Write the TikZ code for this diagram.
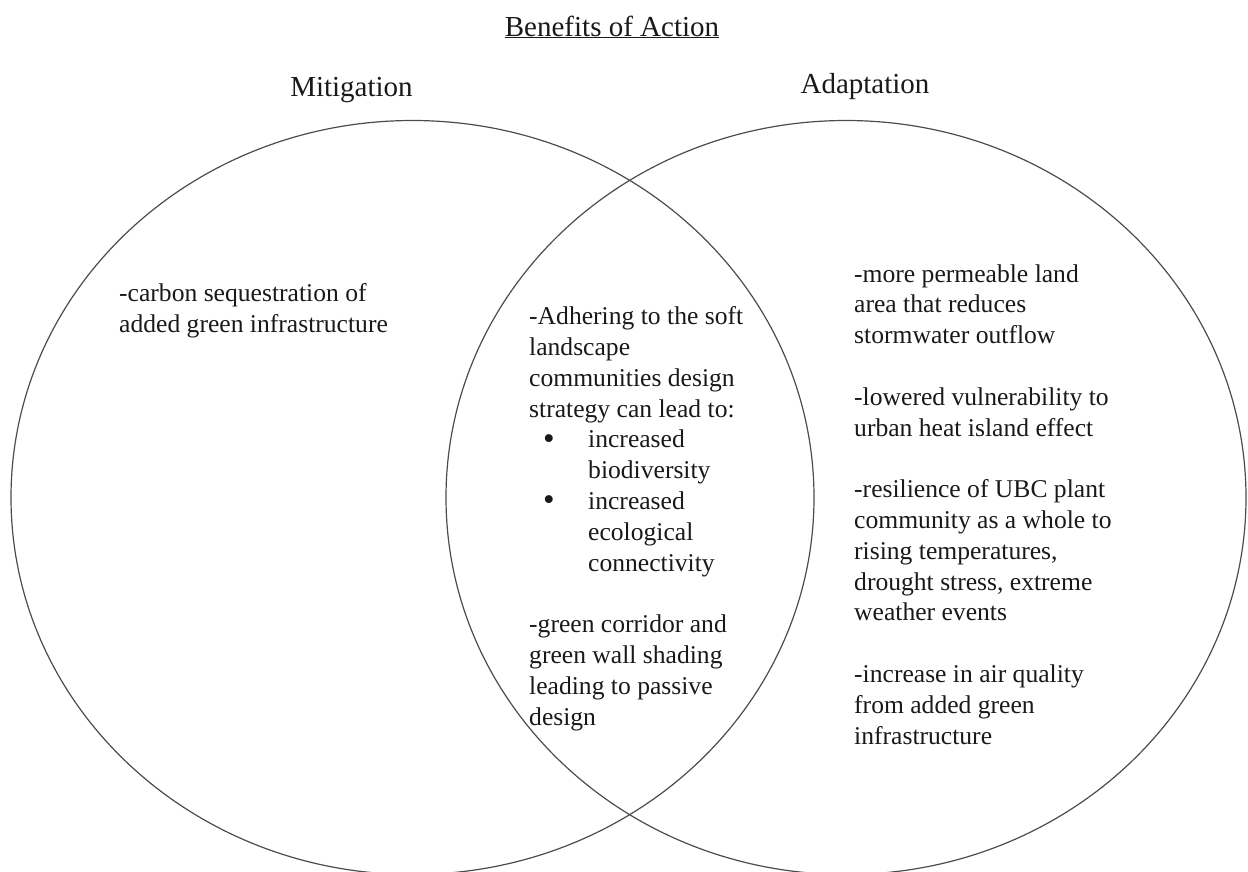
\documentclass[tikz,border=0pt]{standalone}
\usepackage{fontspec}
\setmainfont{Liberation Serif}
\usepackage{tikz}

\newcommand{\listdot}{{\fontsize{33}{33}\selectfont\raisebox{-1.5pt}{\textbullet}}}

\begin{document}
\begin{tikzpicture}[x=1pt,y=-1pt]
		\tikzstyle{ring}=[draw=black!70,line width=1.2pt]
		\tikzstyle{heading}=[inner sep=0pt,anchor=base,text=black!90,font=\fontsize{29}{34}\selectfont]
		\tikzstyle{notes}=[inner sep=0pt,anchor=base west,align=left,text=black!90,font=\fontsize{25.6}{30.8}\selectfont]
		
		\useasboundingbox (0,0) rectangle (1248,871);
		
		% the two sets
		\draw [ring] (412.5,497.5) ellipse [x radius=401.5pt,y radius=377pt];
		\draw [ring] (846,497.5) ellipse [x radius=400pt,y radius=377pt];
		
		\node [heading] (title) at (612,36) {\underline{Benefits of Action}};
		\node [heading] (mitig) at (351.5,96) {Mitigation};
		\node [heading] (adapt) at (865,93) {Adaptation};
		
		% mitigation only (anchored at the last line)
		\node [notes] (carbon) at (119,332) {-carbon sequestration of\\added green infrastructure};
		
		% overlap
		\node [notes] (soft) at (529,725) {-Adhering to the soft\\landscape\\communities design\\strategy can lead to:\\
			\hspace*{14pt}\makebox[45pt][l]{\listdot}increased\\
			\hspace*{59pt}biodiversity\\
			\hspace*{14pt}\makebox[45pt][l]{\listdot}increased\\
			\hspace*{59pt}ecological\\
			\hspace*{59pt}connectivity\\[30.8pt]
			-green corridor and\\green wall shading\\leading to passive\\design};
		
		% adaptation only
		\node [notes] (benefits) at (854,744) {-more permeable land\\area that reduces\\stormwater outflow\\[30.8pt]
			-lowered vulnerability to\\urban heat island effect\\[30.8pt]
			-resilience of UBC plant\\community as a whole to\\rising temperatures,\\drought stress, extreme\\weather events\\[30.8pt]
			-increase in air quality\\from added green\\infrastructure};
\end{tikzpicture}
\end{document}
